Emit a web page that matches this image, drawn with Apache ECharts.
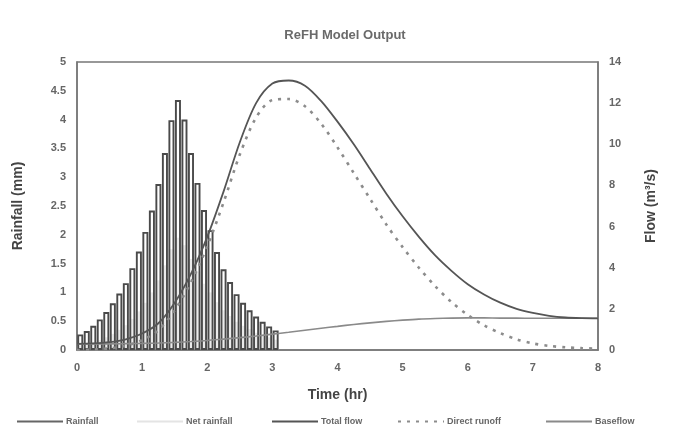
<!DOCTYPE html>
<html>
<head>
<meta charset="utf-8">
<script src="https://cdn.jsdelivr.net/npm/echarts@6/dist/echarts.min.js"></script>
<style>
  html, body { margin: 0; padding: 0; background: #fff; }
  #main { width: 690px; height: 434px; }
</style>
</head>
<body>
<div id="main"></div>
<script>
// rainfall time steps (hr, bar centres)
var rainTimes = [0.05, 0.15, 0.25, 0.35, 0.45, 0.55, 0.65, 0.75, 0.85, 0.95,
  1.05, 1.15, 1.25, 1.35, 1.45, 1.55, 1.65, 1.75, 1.85, 1.95,
  2.05, 2.15, 2.25, 2.35, 2.45, 2.55, 2.65, 2.75, 2.85, 2.95, 3.05];
var rainfall = [0.27, 0.33, 0.42, 0.53, 0.66, 0.81, 0.98, 1.16, 1.42, 1.71,
  2.05, 2.42, 2.88, 3.42, 3.99, 4.34, 4.0, 3.42, 2.9, 2.43,
  2.08, 1.7, 1.4, 1.18, 0.97, 0.82, 0.69, 0.58, 0.49, 0.41, 0.34];
var netRainfall = [0.08, 0.1, 0.13, 0.17, 0.22, 0.28, 0.35, 0.43, 0.54, 0.67,
  0.82, 1.0, 1.21, 1.47, 1.75, 1.95, 1.82, 1.58, 1.36, 1.15,
  1.0, 0.83, 0.69, 0.59, 0.49, 0.42, 0.36, 0.3, 0.26, 0.22, 0.18];

// flow time steps (hr)
var flowTimes = [0, 0.25, 0.5, 0.75, 1, 1.25, 1.5, 1.75, 2, 2.25, 2.5, 2.75,
  3, 3.25, 3.5, 3.75, 4, 4.25, 4.5, 4.75, 5, 5.25, 5.5, 5.75,
  6, 6.25, 6.5, 6.75, 7, 7.25, 7.5, 7.75, 8];
var totalFlow = [0.3, 0.32, 0.38, 0.52, 0.8, 1.3, 2.3, 3.7, 5.5, 7.7, 10.1, 12.0,
  12.95, 13.1, 12.85, 12.1, 11.1, 10.0, 8.8, 7.6, 6.5, 5.5, 4.6, 3.85,
  3.2, 2.7, 2.3, 2.0, 1.8, 1.66, 1.58, 1.55, 1.54];
var directRunoff = [0, 0.02, 0.08, 0.21, 0.48, 0.96, 1.93, 3.29, 5.04, 7.17, 9.5, 11.3,
  12.15, 12.2, 11.85, 11.0, 9.85, 8.6, 7.35, 6.1, 5.0, 4.0, 3.1, 2.33,
  1.7, 1.2, 0.82, 0.52, 0.32, 0.2, 0.13, 0.09, 0.07];
var baseflow = [0.3, 0.3, 0.3, 0.31, 0.32, 0.34, 0.37, 0.41, 0.46, 0.53, 0.6, 0.68,
  0.77, 0.86, 0.96, 1.06, 1.15, 1.24, 1.32, 1.39, 1.45, 1.5, 1.53, 1.55,
  1.56, 1.56, 1.55, 1.55, 1.54, 1.54, 1.54, 1.54, 1.54];

function pairs(xs, ys) {
  return xs.map(function (x, i) { return [x, ys[i]]; });
}

var myChart = echarts.init(document.getElementById('main'));

var txt = { color: '#666', fontFamily: 'Arial', fontWeight: 'bold', fontSize: 11 };
var nameTxt = { color: '#444', fontFamily: 'Arial', fontWeight: 'bold', fontSize: 14 };

function legendAt(name, left, opts) {
  return Object.assign({
    data: [name],
    left: left,
    top: 412,
    itemWidth: 46,
    itemHeight: 8,
    itemGap: 4,
    textStyle: { color: '#666', fontFamily: 'Arial', fontSize: 9, fontWeight: 'bold', padding: [0, 0, 0, -2] }
  }, opts || {});
}

option = {
  backgroundColor: '#fff',
  animation: false,
  title: {
    text: 'ReFH Model Output',
    left: 'center',
    top: 24,
    textStyle: { color: '#6a6a6a', fontFamily: 'Arial', fontWeight: 'bold', fontSize: 13 }
  },
  legend: [
    legendAt('Rainfall', 12, {
      icon: 'path://M0,3 L46,3 L46,5 L0,5 Z',
      itemStyle: { color: '#666', borderWidth: 0 }
    }),
    legendAt('Net rainfall', 132, {
      icon: 'path://M0,3 L46,3 L46,5 L0,5 Z',
      itemStyle: { color: '#e4e4e4', borderWidth: 0 }
    }),
    legendAt('Total flow', 266, { itemStyle: { opacity: 0 } }),
    legendAt('Direct runoff', 392, { itemStyle: { opacity: 0 } }),
    legendAt('Baseflow', 540, { itemStyle: { opacity: 0 } })
  ],
  grid: {
    left: 77,
    right: 92,
    top: 62,
    bottom: 84,
    show: true,
    borderColor: '#777',
    borderWidth: 1.5
  },
  xAxis: {
    type: 'value',
    min: 0,
    max: 8,
    interval: 1,
    name: 'Time (hr)',
    nameLocation: 'middle',
    nameGap: 38,
    nameTextStyle: nameTxt,
    axisLine: { lineStyle: { color: '#777', width: 1.5 } },
    axisTick: { show: false },
    axisLabel: Object.assign({ margin: 12 }, txt),
    splitLine: { show: false }
  },
  yAxis: [
    {
      type: 'value',
      min: 0,
      max: 5,
      interval: 0.5,
      name: 'Rainfall (mm)',
      nameLocation: 'middle',
      nameRotate: 90,
      nameGap: 52,
      nameTextStyle: nameTxt,
      axisLine: { show: true, lineStyle: { color: '#777', width: 1.5 } },
      axisTick: { show: false },
      axisLabel: Object.assign({ margin: 11 }, txt),
      splitLine: { show: false }
    },
    {
      type: 'value',
      min: 0,
      max: 14,
      interval: 2,
      name: 'Flow (m\u00b3/s)',
      nameLocation: 'middle',
      nameRotate: 90,
      nameGap: 46,
      nameTextStyle: nameTxt,
      axisLine: { show: true, lineStyle: { color: '#777', width: 1.5 } },
      axisTick: { show: false },
      axisLabel: Object.assign({ margin: 11 }, txt),
      splitLine: { show: false }
    }
  ],
  series: [
    {
      name: 'Net rainfall',
      type: 'bar',
      yAxisIndex: 0,
      barWidth: 6,
      barGap: '-100%',
      z: 1,
      itemStyle: { color: '#ebebeb' },
      data: pairs(rainTimes, netRainfall)
    },
    {
      name: 'Rainfall',
      type: 'bar',
      yAxisIndex: 0,
      barWidth: 6,
      barGap: '-100%',
      z: 2,
      itemStyle: { color: 'rgba(255,255,255,0)', borderColor: '#4a4a4a', borderWidth: 1.9 },
      data: pairs(rainTimes, rainfall)
    },
    {
      name: 'Baseflow',
      type: 'line',
      yAxisIndex: 1,
      smooth: 0.3,
      showSymbol: false,
      z: 3,
      lineStyle: { color: '#8a8a8a', width: 1.6 },
      itemStyle: { color: '#8a8a8a' },
      data: pairs(flowTimes, baseflow)
    },
    {
      name: 'Direct runoff',
      type: 'line',
      yAxisIndex: 1,
      smooth: 0.3,
      showSymbol: false,
      z: 4,
      lineStyle: { color: '#8c8c8c', width: 2.6, type: [3, 6] },
      itemStyle: { color: '#8c8c8c' },
      data: pairs(flowTimes, directRunoff)
    },
    {
      name: 'Total flow',
      type: 'line',
      yAxisIndex: 1,
      smooth: 0.3,
      showSymbol: false,
      z: 5,
      lineStyle: { color: '#555', width: 1.8 },
      itemStyle: { color: '#555' },
      data: pairs(flowTimes, totalFlow)
    }
  ]
};

myChart.setOption(option);
</script>
</body>
</html>
